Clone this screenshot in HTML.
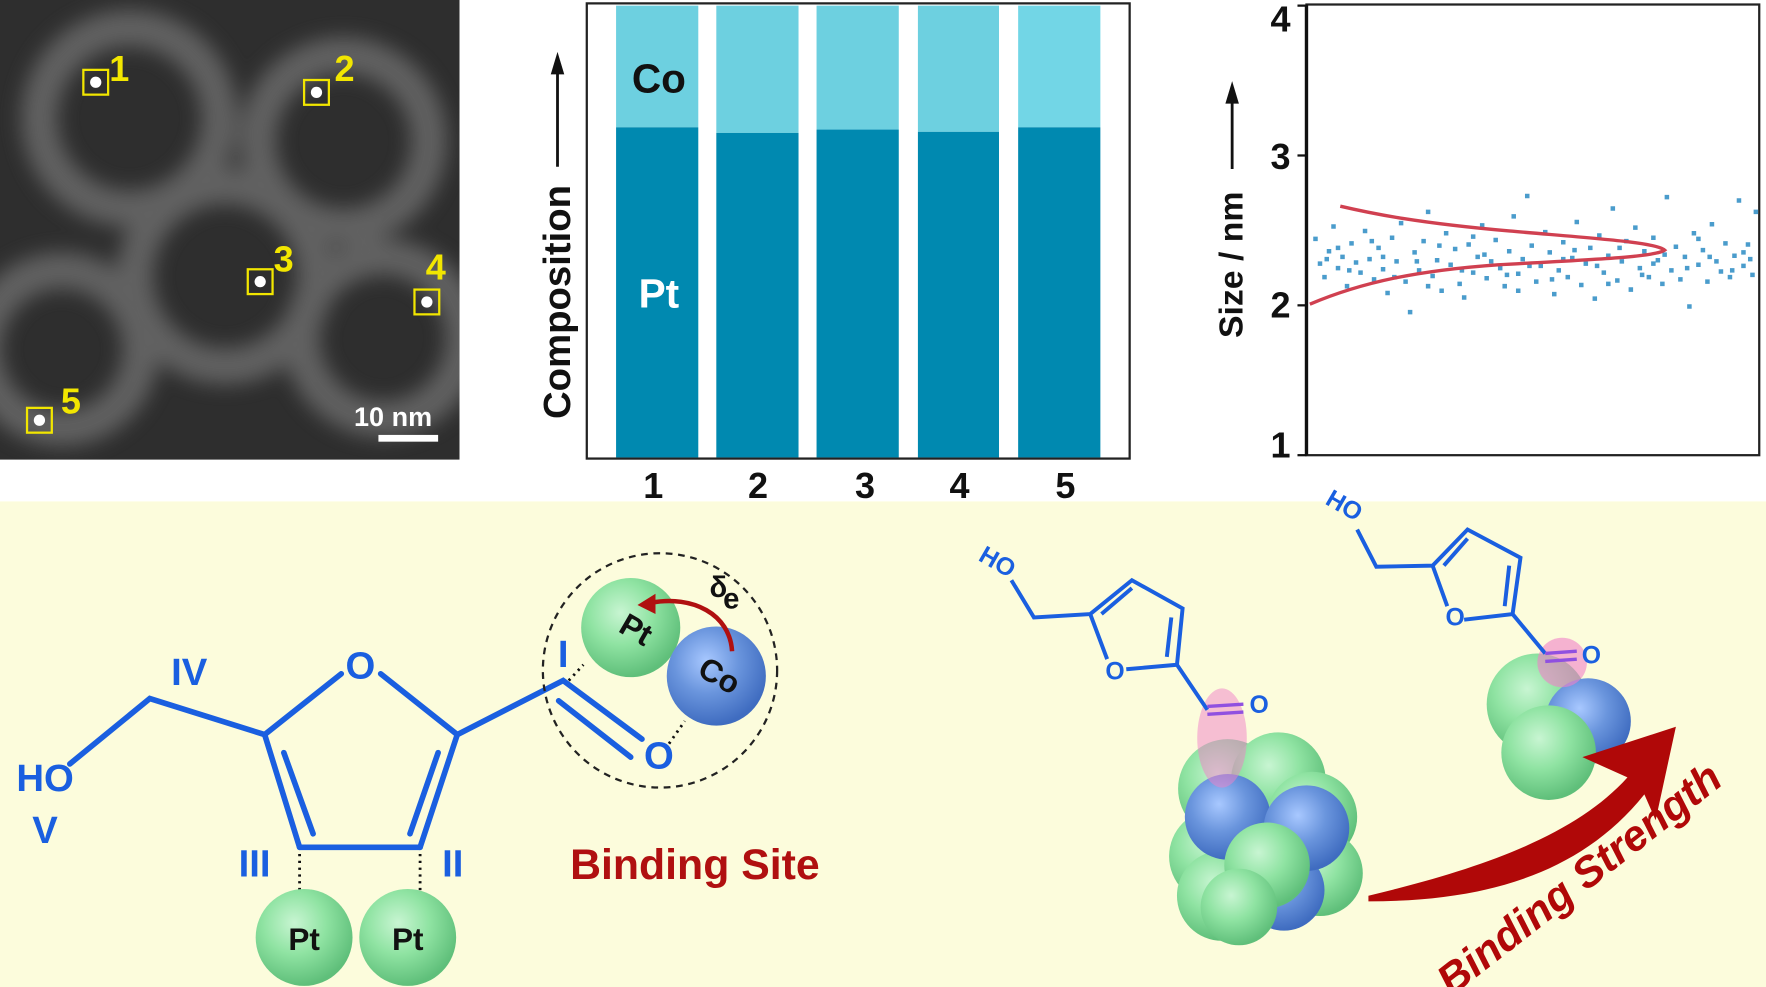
<!DOCTYPE html>
<html><head><meta charset="utf-8"><style>
html,body{margin:0;padding:0;background:#fff;}
svg{display:block;}
text{font-family:"Liberation Sans",sans-serif;font-weight:bold;}
</style></head><body>
<svg width="1766" height="987" viewBox="0 0 1568 876" preserveAspectRatio="none" xmlns="http://www.w3.org/2000/svg">
<defs>
<filter id="bl" x="-20%" y="-20%" width="140%" height="140%"><feGaussianBlur stdDeviation="9"/></filter>
<radialGradient id="gG" cx="40%" cy="35%" r="65%"><stop offset="0" stop-color="#c8f5d2"/><stop offset="0.5" stop-color="#8fe3a2"/><stop offset="1" stop-color="#5fbf7a"/></radialGradient>
<radialGradient id="gB" cx="40%" cy="35%" r="65%"><stop offset="0" stop-color="#a8c8ff"/><stop offset="0.5" stop-color="#6a95dd"/><stop offset="1" stop-color="#3f6cc0"/></radialGradient>
<clipPath id="stem"><rect x="0" y="0" width="408" height="408"/></clipPath>
</defs>
<rect width="1568" height="876" fill="#fff"/>
<!-- STEM -->
<g clip-path="url(#stem)">
<rect width="408" height="408" fill="#2e2e2e"/>
<g fill="none" stroke="#777" stroke-width="32" opacity="0.7" filter="url(#bl)">
<circle cx="115" cy="105" r="80"/><circle cx="305" cy="125" r="76"/><circle cx="200" cy="245" r="80"/>
<circle cx="55" cy="310" r="70"/><circle cx="340" cy="300" r="72"/>
</g>
</g>
<g fill="#fff"><circle cx="85" cy="73" r="5"/><circle cx="281" cy="82" r="5"/><circle cx="231" cy="250" r="5"/><circle cx="379" cy="268" r="5"/><circle cx="35" cy="373" r="5"/></g>
<g fill="none" stroke="#f2e600" stroke-width="2">
<rect x="74" y="62" width="22" height="22"/><rect x="270" y="71" width="22" height="22"/><rect x="220" y="239" width="22" height="22"/><rect x="368" y="257" width="22" height="22"/><rect x="24" y="362" width="22" height="22"/>
</g>
<g fill="#f2e600" font-size="32"><text x="97" y="72">1</text><text x="297" y="72">2</text><text x="243" y="241">3</text><text x="378" y="248">4</text><text x="54" y="367">5</text></g>
<text x="349" y="378" fill="#fff" font-size="24" text-anchor="middle">10 nm</text>
<rect x="336" y="386" width="53" height="6" fill="#fff"/>
<!-- bar chart -->
<rect x="521" y="3" width="482" height="404" fill="#fff" stroke="#222" stroke-width="2"/>
<g>
<rect x="547" y="5" width="73" height="108" fill="#6dd0e0"/><rect x="547" y="113" width="73" height="293" fill="#0089b0"/>
<rect x="636" y="5" width="73" height="113" fill="#6dd0e0"/><rect x="636" y="118" width="73" height="288" fill="#0089b0"/>
<rect x="725" y="5" width="73" height="110" fill="#6dd0e0"/><rect x="725" y="115" width="73" height="291" fill="#0089b0"/>
<rect x="815" y="5" width="72" height="112" fill="#6dd0e0"/><rect x="815" y="117" width="72" height="289" fill="#0089b0"/>
<rect x="904" y="5" width="73" height="108" fill="#72d6e6"/><rect x="904" y="113" width="73" height="293" fill="#0089b0"/>
</g>
<text x="585" y="82" font-size="36" text-anchor="middle" fill="#111">Co</text>
<text x="585" y="273" font-size="36" text-anchor="middle" fill="#fff">Pt</text>
<g font-size="32" text-anchor="middle" fill="#111"><text x="580" y="442">1</text><text x="673" y="442">2</text><text x="768" y="442">3</text><text x="852" y="442">4</text><text x="946" y="442">5</text></g>
<text transform="translate(506,268) rotate(-90)" font-size="34" text-anchor="middle" fill="#111">Composition</text>
<line x1="495" y1="148" x2="495" y2="60" stroke="#111" stroke-width="2.5"/><polygon points="489,66 501,66 495,46" fill="#111"/>
<!-- scatter -->
<rect x="1160" y="4" width="402" height="400" fill="#fff" stroke="#222" stroke-width="2"/>
<line x1="1160" y1="4" x2="1160" y2="404" stroke="#111" stroke-width="3"/>
<g stroke="#111" stroke-width="2"><line x1="1152" y1="5" x2="1160" y2="5"/><line x1="1152" y1="138" x2="1160" y2="138"/><line x1="1152" y1="271" x2="1160" y2="271"/><line x1="1152" y1="404" x2="1160" y2="404"/></g>
<g font-size="32" text-anchor="middle" fill="#111"><text x="1137" y="28">4</text><text x="1137" y="150">3</text><text x="1137" y="282">2</text><text x="1137" y="406">1</text></g>
<text transform="translate(1103,235) rotate(-90)" font-size="30" text-anchor="middle" fill="#111">Size / nm</text>
<line x1="1094" y1="150" x2="1094" y2="88" stroke="#111" stroke-width="2.5"/><polygon points="1088,92 1100,92 1094,72" fill="#111"/>
<path fill="#4a9ccc" d="M1166,210h4v4h-4zM1170,232h4v4h-4zM1174,244h4v4h-4zM1178,221h4v4h-4zM1182,199h4v4h-4zM1186,236h4v4h-4zM1190,226h4v4h-4zM1194,252h4v4h-4zM1198,214h4v4h-4zM1202,231h4v4h-4zM1206,240h4v4h-4zM1210,203h4v4h-4zM1214,228h4v4h-4zM1218,246h4v4h-4zM1222,218h4v4h-4zM1226,237h4v4h-4zM1230,258h4v4h-4zM1234,209h4v4h-4zM1238,230h4v4h-4zM1242,196h4v4h-4zM1246,248h4v4h-4zM1250,275h4v4h-4zM1254,222h4v4h-4zM1258,238h4v4h-4zM1262,212h4v4h-4zM1266,186h4v4h-4zM1270,243h4v4h-4zM1274,229h4v4h-4zM1278,256h4v4h-4zM1282,205h4v4h-4zM1286,233h4v4h-4zM1290,219h4v4h-4zM1294,250h4v4h-4zM1298,262h4v4h-4zM1302,215h4v4h-4zM1306,240h4v4h-4zM1310,226h4v4h-4zM1314,198h4v4h-4zM1318,245h4v4h-4zM1322,230h4v4h-4zM1326,211h4v4h-4zM1330,236h4v4h-4zM1334,252h4v4h-4zM1338,221h4v4h-4zM1342,190h4v4h-4zM1346,241h4v4h-4zM1350,228h4v4h-4zM1354,172h4v4h-4zM1358,216h4v4h-4zM1362,248h4v4h-4zM1366,234h4v4h-4zM1370,204h4v4h-4zM1374,222h4v4h-4zM1378,259h4v4h-4zM1382,238h4v4h-4zM1386,213h4v4h-4zM1390,244h4v4h-4zM1394,227h4v4h-4zM1398,195h4v4h-4zM1402,251h4v4h-4zM1406,232h4v4h-4zM1410,218h4v4h-4zM1414,263h4v4h-4zM1418,207h4v4h-4zM1422,240h4v4h-4zM1426,225h4v4h-4zM1430,183h4v4h-4zM1434,247h4v4h-4zM1438,230h4v4h-4zM1442,212h4v4h-4zM1446,255h4v4h-4zM1450,200h4v4h-4zM1454,236h4v4h-4zM1458,221h4v4h-4zM1462,244h4v4h-4zM1466,209h4v4h-4zM1470,229h4v4h-4zM1474,250h4v4h-4zM1478,173h4v4h-4zM1482,238h4v4h-4zM1486,217h4v4h-4zM1490,246h4v4h-4zM1494,226h4v4h-4zM1498,270h4v4h-4zM1502,205h4v4h-4zM1506,233h4v4h-4zM1510,220h4v4h-4zM1514,248h4v4h-4zM1518,197h4v4h-4zM1522,230h4v4h-4zM1526,239h4v4h-4zM1530,214h4v4h-4zM1534,244h4v4h-4zM1538,225h4v4h-4zM1542,176h4v4h-4zM1546,234h4v4h-4zM1550,215h4v4h-4zM1554,242h4v4h-4zM1557,186h4v4h-4zM1176,228h4v4h-4zM1196,238h4v4h-4zM1216,212h4v4h-4zM1236,244h4v4h-4zM1256,230h4v4h-4zM1276,216h4v4h-4zM1296,238h4v4h-4zM1316,224h4v4h-4zM1336,242h4v4h-4zM1356,234h4v4h-4zM1376,246h4v4h-4zM1396,220h4v4h-4zM1416,234h4v4h-4zM1436,218h4v4h-4zM1456,242h4v4h-4zM1476,224h4v4h-4zM1496,236h4v4h-4zM1516,226h4v4h-4zM1536,238h4v4h-4zM1552,228h4v4h-4zM1186,218h4v4h-4zM1226,226h4v4h-4zM1266,252h4v4h-4zM1306,208h4v4h-4zM1346,256h4v4h-4zM1386,228h4v4h-4zM1426,250h4v4h-4zM1466,232h4v4h-4zM1506,210h4v4h-4zM1546,222h4v4h-4z"/>
<path d="M1163,270 C1210,250 1260,240 1330,235 C1420,230 1470,228 1478,222 C1470,215 1420,212 1340,205 C1260,198 1220,190 1190,183" fill="none" stroke="#d04050" stroke-width="3"/>
<!-- bottom panel -->
<rect x="0" y="445" width="1568" height="431" fill="#fcfcdc"/>
<!-- left molecule -->
<g stroke="#1a5fe0" stroke-width="5" fill="none" stroke-linecap="round">
<polyline points="62,678 133,620 235,652 303,598"/>
<polyline points="338,598 406,652 500,604 570,656"/>
<line x1="235" y1="652" x2="266" y2="752"/><line x1="266" y1="752" x2="373" y2="752"/><line x1="373" y1="752" x2="406" y2="652"/>
<line x1="252" y1="668" x2="278" y2="740"/><line x1="389" y1="668" x2="364" y2="740"/>
<line x1="496" y1="622" x2="560" y2="672"/>
</g>
<g fill="#1a5fe0" font-size="34">
<text x="320" y="602" text-anchor="middle">O</text><text x="585" y="682" text-anchor="middle">O</text>
<text x="40" y="702" text-anchor="middle">HO</text><text x="40" y="748" text-anchor="middle">V</text>
<text x="168" y="608" text-anchor="middle">IV</text><text x="226" y="778" text-anchor="middle">III</text>
<text x="402" y="778" text-anchor="middle">II</text><text x="500" y="592" text-anchor="middle">I</text>
</g>
<g stroke="#111" stroke-width="2.5" stroke-dasharray="2,4"><line x1="266" y1="758" x2="266" y2="790"/><line x1="373" y1="758" x2="373" y2="790"/><line x1="505" y1="604" x2="518" y2="590"/><line x1="594" y1="660" x2="608" y2="640"/></g>
<circle cx="270" cy="832" r="43" fill="url(#gG)"/><circle cx="362" cy="832" r="43" fill="url(#gG)"/>
<text x="270" y="843" font-size="28" text-anchor="middle" fill="#111">Pt</text><text x="362" y="843" font-size="28" text-anchor="middle" fill="#111">Pt</text>
<circle cx="586" cy="595" r="104" fill="none" stroke="#222" stroke-width="2" stroke-dasharray="6,5"/>
<circle cx="560" cy="557" r="44" fill="url(#gG)"/><circle cx="636" cy="600" r="44" fill="url(#gB)"/>
<text transform="translate(560,567) rotate(30)" font-size="28" text-anchor="middle" fill="#111">Pt</text>
<text transform="translate(634,608) rotate(30)" font-size="28" text-anchor="middle" fill="#111">Co</text>
<path d="M650,578 C648,545 615,528 578,535" fill="none" stroke="#b01010" stroke-width="4"/>
<polygon points="566,537 582,527 582,545" fill="#b01010"/>
<text x="630" y="530" font-size="26" fill="#111" font-weight="normal">δ</text><text x="642" y="540" font-size="26" fill="#111">e</text>
<text x="617" y="780" font-size="38" text-anchor="middle" fill="#b01010">Binding Site</text>
<!-- right cluster 1 -->
<g>
<circle cx="1090" cy="700" r="44" fill="url(#gG)"/><circle cx="1135" cy="692" r="42" fill="url(#gG)"/><circle cx="1165" cy="725" r="40" fill="url(#gG)"/>
<circle cx="1080" cy="760" r="42" fill="url(#gG)"/><circle cx="1172" cy="775" r="38" fill="url(#gG)"/><circle cx="1085" cy="795" r="40" fill="url(#gG)"/>
<circle cx="1140" cy="790" r="36" fill="url(#gB)"/>
<circle cx="1090" cy="725" r="38" fill="url(#gB)"/><circle cx="1160" cy="735" r="38" fill="url(#gB)"/>
<circle cx="1125" cy="768" r="38" fill="url(#gG)"/>
<circle cx="1100" cy="805" r="34" fill="url(#gG)"/>
</g>
<ellipse cx="1085" cy="655" rx="22" ry="44" fill="#f080c8" opacity="0.5"/>
<g stroke="#1a5fe0" stroke-width="3.5" fill="none">
<polyline points="898,515 918,548 968,545 1005,515 1050,540 1045,590 1000,594"/>
<line x1="968" y1="545" x2="983" y2="585"/><line x1="978" y1="545" x2="1005" y2="522"/><line x1="1040" y1="548" x2="1036" y2="583"/>
<line x1="1045" y1="590" x2="1072" y2="630"/>
</g>
<g stroke="#9050e0" stroke-width="3"><line x1="1072" y1="627" x2="1104" y2="625"/><line x1="1072" y1="634" x2="1104" y2="632"/></g>
<g fill="#1a5fe0" font-size="22" font-weight="normal"><text x="990" y="603" text-anchor="middle">O</text><text x="1118" y="633" text-anchor="middle">O</text><text transform="translate(882,505) rotate(30)" text-anchor="middle">HO</text></g>
<!-- right cluster 2 -->
<circle cx="1365" cy="625" r="45" fill="url(#gG)"/><circle cx="1410" cy="640" r="38" fill="url(#gB)"/><circle cx="1375" cy="668" r="42" fill="url(#gG)"/>
<circle cx="1387" cy="588" r="22" fill="#f080c8" opacity="0.6"/>
<g stroke="#1a5fe0" stroke-width="3.5" fill="none">
<polyline points="1205,470 1222,503 1272,502 1303,470 1350,495 1343,545 1300,550"/>
<line x1="1272" y1="502" x2="1285" y2="538"/><line x1="1282" y1="502" x2="1303" y2="478"/><line x1="1340" y1="502" x2="1336" y2="538"/>
<line x1="1343" y1="545" x2="1372" y2="580"/>
</g>
<g stroke="#9050e0" stroke-width="3"><line x1="1372" y1="580" x2="1400" y2="578"/><line x1="1372" y1="587" x2="1400" y2="585"/></g>
<g fill="#1a5fe0" font-size="22" font-weight="normal"><text x="1292" y="555" text-anchor="middle">O</text><text x="1413" y="589" text-anchor="middle">O</text><text transform="translate(1190,455) rotate(30)" text-anchor="middle">HO</text></g>
<!-- arrow -->
<path d="M1215,795 C1320,770 1400,740 1445,690 L1405,672 L1488,645 L1470,728 L1460,705 C1400,780 1310,800 1215,800 Z" fill="#b00808"/>
<text transform="translate(1410,790) rotate(-38)" font-size="38" font-style="italic" text-anchor="middle" fill="#b00808">Binding Strength</text>
</svg>
</body></html>
